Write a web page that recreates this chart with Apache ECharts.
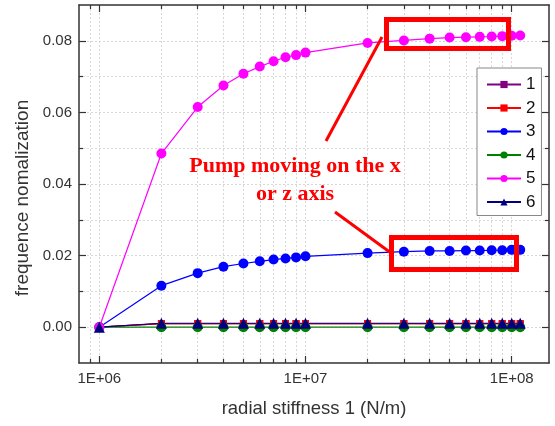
<!DOCTYPE html>
<html><head><meta charset="utf-8">
<script src="https://cdn.jsdelivr.net/npm/echarts@6/dist/echarts.min.js"></script>
<style>html,body{margin:0;padding:0;background:#fff}#c{width:555px;height:426px}</style>
</head><body><div id="c"></div>
<script>
const stiffness = [1e6,2e6,3e6,4e6,5e6,6e6,7e6,8e6,9e6,1e7,2e7,3e7,4e7,5e7,6e7,7e7,8e7,9e7,1e8,1.1e8];
const mode1 = [0,0.0010,0.0010,0.0010,0.0010,0.0010,0.0010,0.0010,0.0010,0.0010,0.0010,0.0010,0.0010,0.0010,0.0010,0.0010,0.0010,0.0010,0.0010,0.0010];
const mode2 = [0,0.0010,0.0010,0.0010,0.0010,0.0010,0.0010,0.0010,0.0010,0.0010,0.0010,0.0010,0.0010,0.0010,0.0010,0.0010,0.0010,0.0010,0.0010,0.0010];
const mode3 = [0,0.0116,0.0151,0.0169,0.0178,0.0184,0.0189,0.0192,0.0195,0.0198,0.0207,0.0211,0.0213,0.0213,0.0214,0.0214,0.0215,0.0215,0.0216,0.0216];
const mode4 = [0,0,0,0,0,0,0,0,0,0,0,0,0,0,0,0,0,0,0,0];
const mode5 = [0,0.0485,0.0615,0.0675,0.0708,0.0728,0.0743,0.0754,0.0760,0.0767,0.0794,0.0801,0.0806,0.0809,0.0810,0.0811,0.0812,0.0813,0.0814,0.0815];
const mode6 = [0,0.0011,0.0011,0.0011,0.0011,0.0011,0.0011,0.0011,0.0011,0.0011,0.0011,0.0011,0.0011,0.0011,0.0011,0.0011,0.0011,0.0011,0.0011,0.0011];
const seriesNames = ['1','2','3','4','5','6'];
const xMajorTicks = [1e6,1e7,1e8];
const xMinorTicks = [9e5,2e6,3e6,4e6,5e6,6e6,7e6,8e6,9e6,2e7,3e7,4e7,5e7,6e7,7e7,8e7,9e7];
const yMajorTicks = [0,0.02,0.04,0.06,0.08];
const yMinorTicks = [0.01,0.03,0.05,0.07];
const xTitle = 'radial stiffness 1 (N/m)';
const yTitle = 'frequence nomalization';
const noteText = 'Pump moving on the x\nor z axis';

const FONT = 'Liberation Sans';
const axisColor = '#333';
const grid = {left:79,right:6,top:5,bottom:63,outerBoundsMode:'none'};
const dotted = {show:true,lineStyle:{color:'#d8d8d8',type:[2,2],width:1}};
function xAx(pos, ticks, len, opts) {
  return Object.assign({
    type:'log', logBase:10, min:797000, max:1.517e8, position:pos,
    axisLine:{show:true,onZero:false,lineStyle:{color:axisColor,width:1.5}},
    axisTick:{show:true,inside:true,length:len,customValues:ticks,lineStyle:{color:axisColor,width:1.2}},
    axisLabel:{show:false}, splitLine:{show:false}
  }, opts||{});
}
function yAx(pos, ticks, len, opts) {
  return Object.assign({
    type:'value', min:-0.01, max:0.09, interval:0.01, position:pos,
    axisLine:{show:true,onZero:false,lineStyle:{color:axisColor,width:1.5}},
    axisTick:{show:true,inside:true,length:len,customValues:ticks,lineStyle:{color:axisColor,width:1.2}},
    axisLabel:{show:false}, splitLine:{show:false}
  }, opts||{});
}
const xAxes = [
  xAx('bottom', xMajorTicks, 7, {
    name:xTitle, nameLocation:'middle', nameGap:36,
    nameTextStyle:{fontFamily:FONT,fontSize:18.5,color:'#333'},
    axisLabel:{show:true,customValues:xMajorTicks,fontFamily:FONT,fontSize:15,color:'#333',margin:8,
      formatter:v=>{const e=Math.round(Math.log10(v));return '1E+'+String(e).padStart(2,'0');}},
    splitLine:dotted}),
  xAx('bottom', xMinorTicks, 4, {axisLine:{show:false,onZero:false}, splitLine:dotted}),
  xAx('top', xMajorTicks, 7),
  xAx('top', xMinorTicks, 4, {axisLine:{show:false,onZero:false}})
];
const yAxes = [
  yAx('left', yMajorTicks, 7, {
    name:yTitle, nameLocation:'middle', nameGap:46,
    nameTextStyle:{fontFamily:FONT,fontSize:19,color:'#333',padding:[0,28,0,0]},
    axisLabel:{show:true,customValues:yMajorTicks,fontFamily:FONT,fontSize:15,color:'#333',margin:7,
      formatter:v=>v.toFixed(2)},
    splitLine:dotted}),
  yAx('left', yMinorTicks, 4, {axisLine:{show:false,onZero:false}, splitLine:dotted}),
  yAx('right', yMajorTicks, 7),
  yAx('right', yMinorTicks, 4, {axisLine:{show:false,onZero:false}})
];
const styles = [
  {c:'#800080', s:'rect', z:7},
  {c:'#ff0000', s:'rect', z:7},
  {c:'#0000ff', s:'circle', z:10},
  {c:'#008000', s:'circle', z:10},
  {c:'#ff00ff', s:'circle', z:10},
  {c:'#000080', s:'triangle', z:11}
];
const modes = [mode1,mode2,mode3,mode4,mode5,mode6];
const series = modes.map((m,i)=>({
  name:seriesNames[i], type:'line', xAxisIndex:0, yAxisIndex:0,
  data: stiffness.map((x,j)=>[x,m[j]]),
  symbol:styles[i].s, symbolSize:styles[i].z, showSymbol:true, showAllSymbol:true,
  lineStyle:{color:styles[i].c,width:1.2}, itemStyle:{color:styles[i].c},
  emphasis:{disabled:true}, silent:true, animation:false
}));
const chart = echarts.init(document.getElementById('c'), null, {renderer:'canvas'});
chart.setOption({
  animation:false,
  backgroundColor:'#fff',
  grid:grid,
  xAxis:xAxes, yAxis:yAxes,
  legend:{
    orient:'vertical', left:477, top:68, data:seriesNames,
    itemWidth:34, itemHeight:9, itemGap:6.5,
    padding:[8,6,5,9], borderColor:'#888', borderWidth:1, backgroundColor:'#fff',
    textStyle:{fontFamily:FONT,fontSize:17,lineHeight:17,color:'#111'}
  },
  series:series,
  graphic:[
    {type:'text', z:100, x:295, y:152, style:{text:noteText, font:'bold 22px "Liberation Serif"', fill:'#ff0000', align:'center', verticalAlign:'top', lineHeight:28}},
    {type:'rect', z:100, shape:{x:386.5,y:19.5,width:122,height:29}, style:{fill:null,stroke:'#ff0000',lineWidth:5}},
    {type:'rect', z:100, shape:{x:391.5,y:237.5,width:125,height:32}, style:{fill:null,stroke:'#ff0000',lineWidth:5}},
    {type:'line', z:100, shape:{x1:326,y1:141,x2:382,y2:37}, style:{stroke:'#ff0000',lineWidth:3}},
    {type:'line', z:100, shape:{x1:335,y1:212,x2:391,y2:253}, style:{stroke:'#ff0000',lineWidth:3}}
  ]
});
</script></body></html>
